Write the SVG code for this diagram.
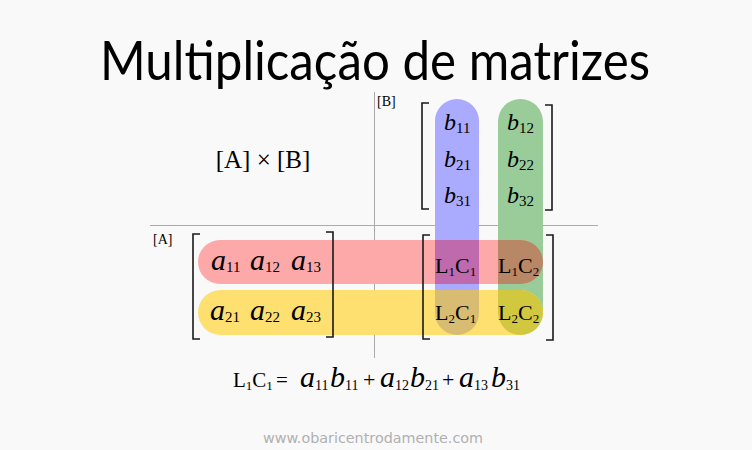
<svg xmlns="http://www.w3.org/2000/svg" width="752" height="450" viewBox="0 0 752 450">
<style>
.ser{font-family:"Liberation Serif","Times New Roman",serif;fill:#000}
.it{font-style:italic}
.sub{font-style:normal}
.br{fill:none;stroke:#1a1a1a;stroke-width:1.6}
.ax{stroke:#aaaaaa;stroke-width:1}
</style>
<defs>
<path id="pBlue" d="M435,121 A22,22 0 0 1 479,121 L479,313 A22,22 0 0 1 435,313 Z"/>
<path id="pGreen" d="M498,121.5 A22.5,22.5 0 0 1 543,121.5 L543,312.5 A22.5,22.5 0 0 1 498,312.5 Z"/>
<path id="pRed" d="M220,240 L521,240 A22,22 0 0 1 521,284 L220,284 A22,22 0 0 1 220,240 Z"/>
<path id="pYellow" d="M220.5,290 L520.5,290 A22.5,22.5 0 0 1 520.5,335 L220.5,335 A22.5,22.5 0 0 1 220.5,290 Z"/>
<clipPath id="cBlue"><use href="#pBlue"/></clipPath>
<clipPath id="cGreen"><use href="#pGreen"/></clipPath>
</defs>
<rect width="752" height="450" fill="#f9f9f9"/>

<g id="title">
<text x="100" y="80" font-family="Lato, DejaVu Sans, sans-serif" font-size="54" font-weight="400" textLength="550" lengthAdjust="spacingAndGlyphs" fill="#000">Multiplicação de matrizes</text>
</g>

<g id="axes">
<line class="ax" x1="374.5" y1="92" x2="374.5" y2="358"/>
<line class="ax" x1="150" y1="225.5" x2="598" y2="225.5"/>
</g>

<g id="labels">
<text class="ser" x="377" y="106" font-size="14">[B]</text>
<text class="ser" x="153" y="244" font-size="14">[A]</text>
<text class="ser" x="263" y="168" font-size="25" text-anchor="middle">[A] × [B]</text>
</g>

<g id="highlights">
<use href="#pBlue" fill="#aaaaff"/>
<use href="#pGreen" fill="#99cc99"/>
<use href="#pRed" fill="#fda9a9"/>
<use href="#pYellow" fill="#fde070"/>
<use href="#pRed" fill="#c06aae" clip-path="url(#cBlue)"/>
<use href="#pRed" fill="#b88866" clip-path="url(#cGreen)"/>
<use href="#pYellow" fill="#d8bc72" clip-path="url(#cBlue)"/>
<use href="#pYellow" fill="#d2c840" clip-path="url(#cGreen)"/>
</g>

<g id="brackets">
<path class="br" d="M429,103 L422,103 L422,209 L429,209"/>
<path class="br" d="M545,105 L552,105 L552,210 L545,210"/>
<path class="br" d="M200,234 L193,234 L193,339 L200,339"/>
<path class="br" d="M326,232 L333,232 L333,337 L326,337"/>
<path class="br" d="M430,235 L423,235 L423,339 L430,339"/>
<path class="br" d="M546,235 L553,235 L553,340 L546,340"/>
</g>

<g id="matrixB" class="ser">
<text x="444" y="130" font-size="24"><tspan class="it">b</tspan><tspan class="sub" font-size="15" dy="3">11</tspan></text>
<text x="444" y="167" font-size="24"><tspan class="it">b</tspan><tspan class="sub" font-size="15" dy="3">21</tspan></text>
<text x="444" y="203" font-size="24"><tspan class="it">b</tspan><tspan class="sub" font-size="15" dy="3">31</tspan></text>
<text x="507" y="130" font-size="24"><tspan class="it">b</tspan><tspan class="sub" font-size="15" dy="3">12</tspan></text>
<text x="507" y="167" font-size="24"><tspan class="it">b</tspan><tspan class="sub" font-size="15" dy="3">22</tspan></text>
<text x="507" y="203" font-size="24"><tspan class="it">b</tspan><tspan class="sub" font-size="15" dy="3">32</tspan></text>
</g>

<g id="matrixA" class="ser">
<text x="211" y="270" font-size="30"><tspan class="it">a</tspan><tspan class="sub" font-size="15" dy="2">11</tspan></text>
<text x="250" y="270" font-size="30"><tspan class="it">a</tspan><tspan class="sub" font-size="15" dy="2">12</tspan></text>
<text x="291" y="270" font-size="30"><tspan class="it">a</tspan><tspan class="sub" font-size="15" dy="2">13</tspan></text>
<text x="210" y="320" font-size="30"><tspan class="it">a</tspan><tspan class="sub" font-size="15" dy="2">21</tspan></text>
<text x="250" y="320" font-size="30"><tspan class="it">a</tspan><tspan class="sub" font-size="15" dy="2">22</tspan></text>
<text x="291" y="320" font-size="30"><tspan class="it">a</tspan><tspan class="sub" font-size="15" dy="2">23</tspan></text>
</g>

<g id="matrixC" class="ser">
<text x="435" y="273" font-size="22">L<tspan font-size="13" dy="3">1</tspan><tspan dy="-3">C</tspan><tspan font-size="13" dy="3">1</tspan></text>
<text x="498" y="273" font-size="22">L<tspan font-size="13" dy="3">1</tspan><tspan dy="-3">C</tspan><tspan font-size="13" dy="3">2</tspan></text>
<text x="435" y="320" font-size="22">L<tspan font-size="13" dy="3">2</tspan><tspan dy="-3">C</tspan><tspan font-size="13" dy="3">1</tspan></text>
<text x="498" y="320" font-size="22">L<tspan font-size="13" dy="3">2</tspan><tspan dy="-3">C</tspan><tspan font-size="13" dy="3">2</tspan></text>
</g>

<g id="formula" class="ser">
<text y="387" font-size="21"><tspan x="233">L</tspan><tspan font-size="13" dy="3">1</tspan><tspan dy="-3">C</tspan><tspan font-size="13" dy="3">1</tspan><tspan x="276" dy="-3">=</tspan></text>
<text y="387" font-size="30" class="it">
<tspan x="300">a</tspan><tspan x="330">b</tspan>
<tspan x="380">a</tspan><tspan x="410">b</tspan>
<tspan x="459">a</tspan><tspan x="491">b</tspan>
</text>
<text y="390" font-size="14">
<tspan x="315">11</tspan><tspan x="345">11</tspan>
<tspan x="395">12</tspan><tspan x="425">21</tspan>
<tspan x="474">13</tspan><tspan x="506">31</tspan>
</text>
<text y="387" font-size="22"><tspan x="363">+</tspan><tspan x="442">+</tspan></text>
</g>

<g id="footer">
<text x="263" y="443" font-family="DejaVu Sans, sans-serif" font-size="14" fill="#b0b0b0" textLength="220" lengthAdjust="spacingAndGlyphs">www.obaricentrodamente.com</text>
</g>
</svg>
